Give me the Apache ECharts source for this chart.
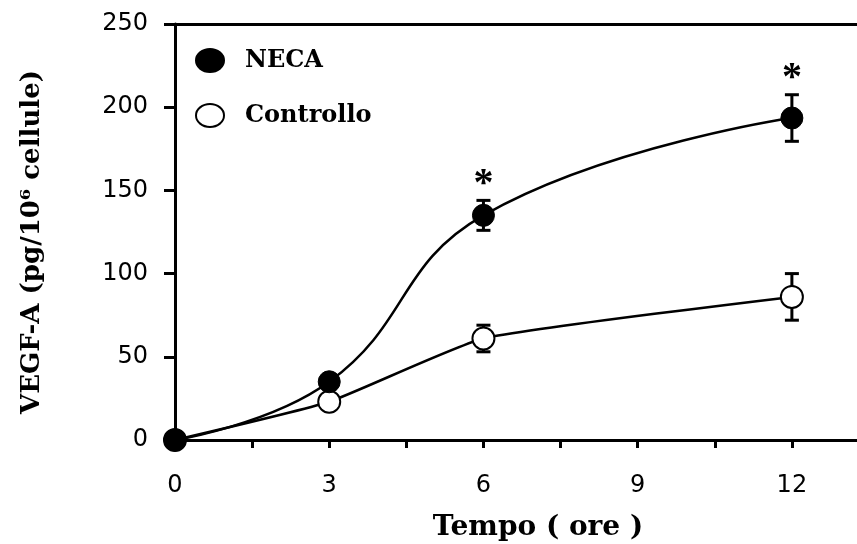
<!DOCTYPE html>
<html><head><meta charset="utf-8">
<script src="https://cdn.jsdelivr.net/npm/echarts@6/dist/echarts.min.js"></script>
<style>html,body{margin:0;padding:0;background:#fff}#c{width:857px;height:544px}</style>
</head><body><div id="c"></div>
<script>
// ---- data ----
const hours = [0, 3, 6, 12];
const necaMean = [0, 35, 135, 193.5];
const necaErr = [0, 0, 9, 14];
const controlloMean = [0, 23, 61, 86];
const controlloErr = [0, 0, 8, 14];
const significant = [false, false, true, true]; // NECA vs Controllo
const seriesNames = ['NECA', 'Controllo'];
const xTickStep = 1.5;
const xLabelStep = 3;
const yTickStep = 50;
const yMax = 250;
const xAxisTitle = 'Tempo ( ore )';
const yAxisTitle = 'VEGF-A (pg/10\u2076 cellule)';

const necaPts = hours.map((h, i) => [h, necaMean[i]]);
const ctrlPts = hours.map((h, i) => [h, controlloMean[i]]);
const necaErrData = hours.map((h, i) => [h, necaMean[i], necaErr[i], significant[i] ? 1 : 0]);
const ctrlErrData = hours.map((h, i) => [h, controlloMean[i], controlloErr[i], 0]);

const ELLIPSE = 'path://M0,10 A10,10 0 1,1 20,10 A10,10 0 1,1 0,10 Z';

function renderErr(params, api) {
  const x = api.value(0), m = api.value(1), e = api.value(2), sig = api.value(3);
  const children = [];
  const hw = 7;
  let topY = api.coord([x, m])[1] - 11;
  if (e > 0) {
    const top = api.coord([x, m + e]);
    const bot = api.coord([x, m - e]);
    topY = top[1];
    children.push({type: 'line', shape: {x1: top[0], y1: top[1], x2: bot[0], y2: bot[1]}, style: {stroke: '#000', lineWidth: 3}});
    children.push({type: 'line', shape: {x1: top[0] - hw, y1: top[1], x2: top[0] + hw, y2: top[1]}, style: {stroke: '#000', lineWidth: 3}});
    children.push({type: 'line', shape: {x1: bot[0] - hw, y1: bot[1], x2: bot[0] + hw, y2: bot[1]}, style: {stroke: '#000', lineWidth: 3}});
  }
  if (sig) {
    const c = api.coord([x, m]);
    children.push({type: 'text', x: c[0], y: topY - 16, style: {
      text: '*', fill: '#000', font: 'bold 40px "Liberation Serif"', align: 'center', verticalAlign: 'middle'
    }});
  }
  return {type: 'group', children};
}

const chart = echarts.init(document.getElementById('c'));
chart.setOption({
  animation: false,
  backgroundColor: '#fff',
  grid: {left: 175, right: -12, top: 24, bottom: 104, containLabel: false, outerBoundsMode: 'none'},
  legend: {
    orient: 'vertical', left: 190, top: 43, itemWidth: 28, itemHeight: 23, itemGap: 30,
    icon: ELLIPSE, symbolKeepAspect: false,
    data: seriesNames,
    textStyle: {fontFamily: 'DejaVu Serif', fontWeight: 'bold', fontSize: 24, color: '#000', padding: [0, 0, 0, 16]}
  },
  xAxis: [{
    type: 'value', min: 0, max: 13.5, interval: xTickStep, position: 'bottom',
    splitLine: {show: false},
    axisLine: {onZero: false, lineStyle: {color: '#000', width: 3}},
    axisTick: {length: 8, lineStyle: {color: '#000', width: 3}},
    axisLabel: {margin: 34, fontFamily: 'DejaVu Sans', fontSize: 24, color: '#000',
      formatter: v => (Math.abs(v / xLabelStep - Math.round(v / xLabelStep)) < 1e-6 ? String(v) : '')},
    name: xAxisTitle, nameLocation: 'middle', nameGap: 74,
    nameTextStyle: {fontFamily: 'DejaVu Serif', fontWeight: 'bold', fontSize: 28, color: '#000', padding: [0, 0, 0, 32]}
  }, {
    type: 'value', min: 0, max: 13.5, position: 'top',
    splitLine: {show: false}, axisTick: {show: false}, axisLabel: {show: false},
    axisLine: {show: true, onZero: false, lineStyle: {color: '#000', width: 3}}
  }],
  yAxis: {
    type: 'value', min: 0, max: yMax, interval: yTickStep,
    splitLine: {show: false},
    axisLine: {show: true, onZero: false, lineStyle: {color: '#000', width: 3}},
    axisTick: {show: true, length: 11, lineStyle: {color: '#000', width: 3}},
    axisLabel: {margin: 27, fontFamily: 'DejaVu Sans', fontSize: 24, color: '#000'},
    name: yAxisTitle, nameLocation: 'middle', nameGap: 130, nameRotate: 90,
    nameTextStyle: {fontFamily: 'DejaVu Serif', fontWeight: 'bold', fontSize: 26, color: '#000', padding: [0, 20, 0, 0]}
  },
  series: [
    {type: 'custom', name: 'errC', renderItem: renderErr, data: ctrlErrData, z: 1, clip: false, silent: true},
    {type: 'custom', name: 'errN', renderItem: renderErr, data: necaErrData, z: 1, clip: false, silent: true},
    {type: 'line', name: 'Controllo', data: ctrlPts, z: 3, clip: false, smooth: 0.15,
      symbol: 'circle', symbolSize: 22, showSymbol: true,
      lineStyle: {color: '#000', width: 2.5},
      itemStyle: {color: '#fff', borderColor: '#000', borderWidth: 2}},
    {type: 'line', name: 'NECA', data: necaPts, z: 4, clip: false, smooth: 0.45,
      symbol: 'circle', symbolSize: 22, showSymbol: true,
      lineStyle: {color: '#000', width: 2.5},
      itemStyle: {color: '#000', borderColor: '#000', borderWidth: 1}}
  ]
});
</script></body></html>
